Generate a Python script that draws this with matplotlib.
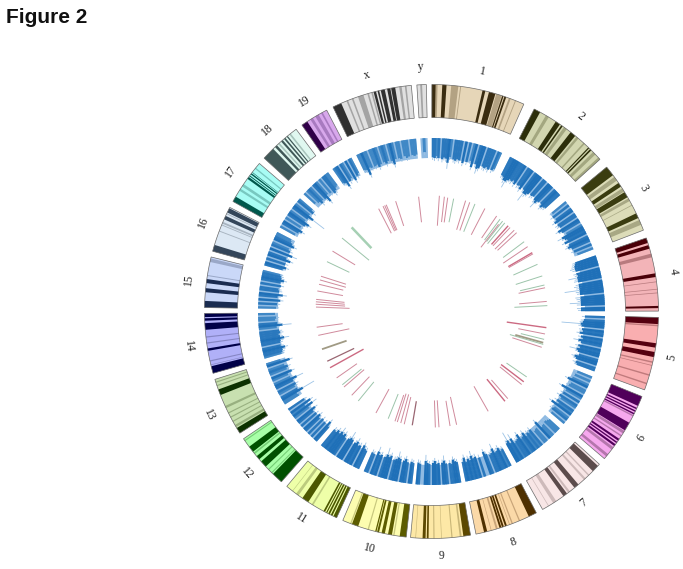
#!/usr/bin/env python3
import numpy as np
import matplotlib
matplotlib.use("Agg")
import matplotlib.pyplot as plt

# chromosome layout, degrees clockwise from the top
chrom_names = ["1", "2", "3", "4", "5", "6", "7", "8", "9", "10", "11", "12",
               "13", "14", "15", "16", "17", "18", "19", "x", "y"]
chrom_start = [0.1, 26.9, 50.5, 71.1, 91.5, 112.0, 132.3, 152.5, 170.1, 186.4, 204.7,
               221.4, 237.6, 254.2, 271.0, 285.4, 299.0, 312.5, 325.2, 334.3, 356.3]
chrom_end = [24.0, 47.9, 69.0, 89.9, 110.2, 130.4, 150.7, 168.7, 185.3, 203.0, 219.6,
             235.9, 252.6, 269.5, 283.9, 297.3, 310.7, 323.4, 332.5, 354.9, 358.7]

# ideogram bands, percent along each chromosome
dark_bands = [
    [(0, 4), (11, 15.5), (54, 57), (61, 68), (75.5, 77), (78, 80)],
    [(0, 8), (30, 36), (38, 40), (52, 59), (80, 81.5), (83, 85)],
    [(0, 14), (27, 33), (42, 50), (75, 82)],
    [(0, 7), (10, 15), (49, 54), (93, 96)],
    [(0, 9), (35, 41), (47, 54)],
    [(0, 14), (17, 19), (21, 23), (25, 27), (40, 52), (66, 69), (71, 73), (75, 78)],
    [(3, 13), (40, 47), (60, 66)],
    [(0, 13), (50, 53), (55, 58), (59, 62), (82, 87)],
    [(0, 12), (70, 73), (75, 80)],
    [(0, 10), (22, 28), (33, 38), (42, 45), (46, 48), (75, 85)],
    [(0, 6), (8, 11), (13, 16), (18, 20), (22, 25), (55, 67)],
    [(0, 20), (38, 50), (55, 62), (72, 83)],
    [(0, 10), (72, 82)],
    [(0, 12), (38, 42), (73, 84), (88, 92), (94, 100)],
    [(0, 13), (30, 38), (48, 56)],
    [(0, 14), (72, 80), (88, 98)],
    [(0, 12), (58, 63), (65, 67), (70, 73), (75, 76)],
    [(0, 30), (36, 42), (55, 60), (64, 68), (72, 75)],
    [(0, 22)],
    [(0, 11), (53, 56), (58, 60), (62, 67), (70, 74), (75, 80)],
    [],
]
mid_bands = [
    [(4, 6), (20.5, 28), (30, 31), (69, 75), (83, 85), (90, 91)],
    [(16, 20), (42, 46), (61, 64), (72, 74), (88, 92), (97, 100)],
    [(17, 23), (36, 41), (52, 56), (62, 63), (85, 92)],
    [(22, 27), (60, 61), (70, 71), (75, 76)],
    [(10, 12), (60, 62), (65, 66), (78, 80), (90, 92)],
    [(28, 30), (53, 57), (60, 62), (80, 84), (92, 96)],
    [(20, 22), (27, 30), (55, 58), (78, 83), (90, 91)],
    [(28, 30), (40, 42), (45, 46), (65, 68), (75, 76)],
    [(15, 18), (30, 32), (48, 49), (60, 62), (91, 92)],
    [(18, 20), (58, 60), (86, 88)],
    [(45, 48), (75, 80), (87, 88)],
    [(22, 24), (30, 32), (67, 70), (95, 97)],
    [(12, 16), (22, 24), (30, 32), (38, 40), (48, 52), (88, 90), (94, 96)],
    [(14, 15), (20, 22), (50, 52), (60, 62)],
    [(62, 64), (90, 97)],
    [(44, 46), (58, 60), (62, 66), (84, 86)],
    [(27, 32), (38, 44), (85, 88)],
    [(46, 50), (80, 84)],
    [(35, 45), (55, 68), (78, 84)],
    [(18, 20), (25, 27), (33, 40), (45, 47), (50, 52), (85, 88), (92, 94)],
    [(35, 55)],
]

# depth of the density track per bin, pixels inward from its outer edge
density = [
    [19, 20, 18, 20, 4, 21, 19, 20, 27, 18, 5, 20, 21, 19, 20, 6, 22, 4, 20, 3, 18, 24, 5, 20, 26, 23, 5, 20, 21, 19, 21, 4, 20, 18],
    [20, 21, 24, 28, 22, 20, 21, 19, 22, 6, 21, 20, 23, 5, 21, 30, 24, 22, 5, 21, 20, 4, 22, 27, 21, 5, 20, 23, 21, 20],
    [18, 5, 20, 4, 19, 22, 6, 21, 20, 5, 24, 21, 5, 18, 26, 22, 20, 24, 4, 21, 23, 20, 5, 19, 4, 17],
    [22, 23, 24, 26, 24, 5, 24, 23, 30, 24, 25, 5, 24, 26, 24, 36, 25, 24, 5, 26, 25, 24, 32, 25, 6, 25, 24],
    [20, 4, 21, 22, 40, 23, 5, 22, 21, 24, 5, 22, 20, 26, 21, 5, 23, 21, 28, 22, 5, 20, 24, 22, 5, 21, 19],
    [16, 4, 17, 5, 18, 22, 5, 17, 18, 5, 24, 18, 5, 19, 4, 21, 18, 5, 20, 17, 24, 4, 18, 19, 5, 17],
    [14, 15, 16, 5, 15, 14, 22, 5, 17, 16, 5, 20, 18, 19, 17, 22, 19, 18, 24, 20, 19, 18, 26, 20, 30, 22],
    [19, 18, 22, 20, 19, 26, 20, 19, 5, 21, 24, 6, 5, 20, 7, 22, 21, 26, 20, 22, 19, 24, 20],
    [21, 22, 24, 20, 21, 5, 21, 26, 22, 6, 22, 21, 24, 22, 5, 21, 22, 27, 5, 6, 21, 22],
    [21, 22, 6, 21, 24, 22, 5, 23, 27, 22, 21, 5, 24, 22, 28, 21, 5, 22, 21, 26, 5, 20, 21],
    [20, 21, 24, 5, 22, 21, 25, 22, 6, 23, 28, 22, 5, 21, 24, 22, 26, 21, 23, 20, 21],
    [19, 24, 5, 20, 4, 21, 6, 19, 22, 5, 20, 4, 19, 23, 5, 18, 26, 16, 24, 5, 19],
    [17, 16, 34, 19, 5, 18, 20, 5, 19, 28, 18, 5, 17, 22, 5, 18, 20, 17, 5, 24, 15],
    [18, 19, 20, 23, 19, 5, 19, 20, 26, 20, 19, 21, 20, 5, 18, 30, 19, 5, 17, 18, 5, 17],
    [18, 4, 19, 5, 22, 4, 19, 25, 5, 20, 19, 5, 21, 5, 20, 23, 20, 19, 18],
    [19, 22, 5, 20, 5, 24, 19, 5, 26, 5, 20, 18, 5, 22, 19, 17, 16],
    [17, 5, 19, 22, 5, 18, 4, 21, 24, 18, 5, 19, 35, 18, 5, 20, 17],
    [15, 5, 17, 20, 18, 5, 19, 24, 17, 5, 18, 5, 21, 19, 17, 16],
    [18, 19, 24, 5, 20, 18, 5, 22, 5, 19, 17],
    [17, 18, 24, 17, 18, 5, 18, 17, 20, 18, 5, 17, 19, 17, 5, 18, 22, 17, 5, 17, 18, 5, 16, 18, 17, 5, 16, 17, 16],
    [4, 14, 4],
]

# inner track: short radial strokes
link_angle = [3.9, 6.4, 8.1, 11.1, 17.1, 19.3, 22.0, 27.4, 34.3, 36.6, 38.2, 37.6, 39.6, 41.8, 43.1, 45.5, 47.2,
              53.0, 56.0, 59.7, 60.4, 66.0, 72.2, 76.8, 78.2, 85.0, 87.1, 98.0, 101.2, 103.9, 106.4, 105.6, 108.0,
              124.5, 127.3, 129.0, 138.8, 140.7, 150.4, 167.5, 170.8, 176.3, 178.1, 189.6, 193.6, 195.4, 197.2, 198.4,
              202.0, 208.7, 219.3, 223.6, 229.2, 230.6, 235.0, 241.0, 244.5, 251.0, 258.1, 262.2, 272.2, 273.6, 274.8,
              276.0, 280.2, 283.6, 285.8, 287.7, 295.5, 301.4, 309.4, 316.5, 332.8, 335.3, 336.2, 337.0, 342.0, 353.6]
link_inner = [86, 90, 90, 91, 85.5, 85.8, 86, 86.4, 89, 89, 89, 81, 88, 90, 90, 89, 90,
              89.7, 86.5, 89, 89, 89.6, 88.5, 91, 89, 88, 83, 76, 88.5, 92, 81.7, 87, 85,
              91, 87.5, 88, 91, 87.5, 86, 87.5, 90.5, 89, 89, 91, 88, 86, 86, 88,
              89, 88.5, 91, 90, 89, 90.6, 91, 77.7, 85.7, 89.8, 84, 89.7, 82, 86.6, 87,
              87.5, 90, 90.8, 89, 89.8, 91, 89.5, 80.8, 87.3, 88, 88.4, 88.4, 88.4, 90, 89.8]
link_outer = [116, 115.5, 115, 115, 116, 115.7, 116, 116, 115.6, 115, 115, 110, 115, 115, 115, 116, 116,
              116, 116, 116.7, 116.7, 116, 116.3, 116, 116, 115.7, 116, 116, 115.7, 116, 116.5, 116, 115.9,
              115.5, 116, 116, 115.8, 116, 114.8, 116, 116, 116, 116, 115.4, 116, 115.7, 115.7, 115.7,
              115.6, 115.7, 115.6, 115.7, 115.6, 115.4, 115.8, 116, 115.5, 115.8, 115.7, 115.9, 115.6, 116, 116,
              116, 116, 115.7, 115.9, 116, 115.8, 116, 115.8, 116, 115.6, 116, 116, 116, 116, 115.5]
link_kind = ["r", "r", "r", "g", "r", "r", "g", "r", "r", "g", "g", "r", "g", "R", "r", "r", "r",
             "g", "r", "R", "r", "g", "g", "g", "r", "r", "g", "R", "r", "g", "g", "O", "r",
             "g", "R", "r", "r", "R", "r", "r", "r", "r", "r", "D", "r", "r", "r", "r",
             "g", "r", "g", "r", "r", "g", "r", "R", "D", "O", "r", "r", "r", "r", "r",
             "r", "r", "r", "r", "r", "g", "r", "g", "G", "r", "r", "r", "r", "r", "r"]

base_colors = ["#e6d6b8", "#d2d6b0", "#dcdcb8", "#f3b4b8", "#f9aeb0", "#f6a8ee", "#f8e6e6",
               "#fbd9a8", "#fde8a6", "#fdfdb0", "#eeffa8", "#a8ffa8", "#c8e0b0", "#b0b0f8",
               "#cad8f8", "#dce8f4", "#a8fcf4", "#e0f8f0", "#d8a8ec", "#e0e0e0", "#e0e0e0"]
mid_colors = ["#b3a283", "#a3a780", "#a8a884", "#b87a7e", "#c07a7c", "#b576ad", "#cdbaba",
              "#c8a478", "#c9b678", "#c8c87e", "#bccb7e", "#74cc74", "#98b080", "#8686c4",
              "#9aa8c8", "#a8b4c0", "#78c8c0", "#a8c4bc", "#a87ac0", "#a4a4a4", "#a4a4a4"]
dark_colors = ["#3a2c10", "#2c2e0a", "#3a3c10", "#4a0008", "#550010", "#50005a", "#5c4c4c",
               "#4e3000", "#5c4800", "#5c5c00", "#4c5800", "#005000", "#0c3000", "#000048",
               "#1a2c50", "#34465a", "#00584c", "#405858", "#300048", "#303030", "#303030"]
link_styles = {"r": ("#d08a9c", 0.7), "R": ("#cc6a82", 1.0), "g": ("#9cc4aa", 0.7),
               "G": ("#a6d0b4", 1.8), "D": ("#9a6672", 0.9), "O": ("#a09a84", 1.3)}

W, H = 683, 569
CX, CY = 431.5, 311.5
IDEO_IN, IDEO_OUT = 194, 227
DENS_OUT = 173.5
SOLID = 24


def to_xy(deg, r):
    # clockwise from the top, same unit as pixels
    t = np.radians(deg)
    return r * np.sin(t), r * np.cos(t)


def wedge(ax, a0, a1, r0, r1, **kw):
    n = max(2, int(abs(a1 - a0) / 0.5) + 2)
    arc = np.linspace(a0, a1, n)
    x1, y1 = to_xy(arc, r1)
    x0, y0 = to_xy(arc[::-1], r0)
    ax.fill(np.r_[x1, x0], np.r_[y1, y0], **kw)


def draw_ideogram(ax, i):
    a0, a1 = chrom_start[i], chrom_end[i]
    span = a1 - a0
    wedge(ax, a0, a1, IDEO_IN, IDEO_OUT, color=base_colors[i], linewidth=0)
    for bands, col in ((mid_bands[i], mid_colors[i]), (dark_bands[i], dark_colors[i])):
        for p, q in bands:
            wedge(ax, a0 + span * p / 100, a0 + span * q / 100, IDEO_IN, IDEO_OUT,
                  color=col, linewidth=0)
    wedge(ax, a0, a1, IDEO_IN, IDEO_OUT, facecolor="none", edgecolor="#6a6a6a", linewidth=0.5)


def bin_color(v):
    # deeper bins read darker in the reference
    if v >= 22:
        return "#1f70b8"
    if v >= 19:
        return "#2a78bd"
    return "#4088c6"


def draw_density(ax, i):
    a0, a1 = chrom_start[i], chrom_end[i]
    vals = density[i]
    step = (a1 - a0) / len(vals)
    # pale band behind the bins, shows through the low ones
    wedge(ax, a0, a1, DENS_OUT - 20, DENS_OUT, color="#8fbae2", linewidth=0)
    for k in np.argsort(vals):
        v = vals[k]
        if v <= 7:
            continue
        left = max(a0, a0 + (k - 0.12) * step)
        right = min(a1, a0 + (k + 1.12) * step)
        wedge(ax, left, right, DENS_OUT - min(v, SOLID), DENS_OUT, color=bin_color(v), linewidth=0)
    for k, v in enumerate(vals):
        if v > 7:
            # feathered inner edge, longer where the value runs past the solid part
            x, y = to_xy(a0 + (k + 0.5) * step, np.array([DENS_OUT - max(v, 0) - 3, DENS_OUT - min(v, SOLID)]))
            ax.plot(x, y, color="#9cc3e6", linewidth=0.6, solid_capstyle="butt")


def main():
    plt.rcParams["font.family"] = ["Liberation Serif", "DejaVu Serif"]
    fig = plt.figure(figsize=(W / 100, H / 100), dpi=100)
    ax = fig.add_axes([0, 0, 1, 1])
    ax.set_xlim(-CX, W - CX)
    ax.set_ylim(CY - H, CY)
    ax.axis("off")

    for i in range(len(chrom_names)):
        draw_ideogram(ax, i)
        draw_density(ax, i)

        mid = (chrom_start[i] + chrom_end[i]) / 2
        rot = 180 - mid if 90 < mid < 270 else -mid
        x, y = to_xy(mid, 245)
        ax.text(x, y, chrom_names[i], fontsize=8.5, rotation=rot, rotation_mode="anchor",
                ha="center", va="center", color="#222222")

    for ang, r0, r1, kind in zip(link_angle, link_inner, link_outer, link_kind):
        col, lw = link_styles[kind]
        x, y = to_xy(ang, np.array([r0, r1]))
        ax.plot(x, y, color=col, linewidth=lw, solid_capstyle="butt")

    fig.text(6 / W, 1 - 23 / H, "Figure 2", family=["Liberation Sans", "DejaVu Sans"],
             fontsize=15, fontweight="bold", color="#111111", ha="left", va="baseline")

    fig.savefig("out.png", dpi=100)
    plt.close(fig)


if __name__ == "__main__":
    main()
